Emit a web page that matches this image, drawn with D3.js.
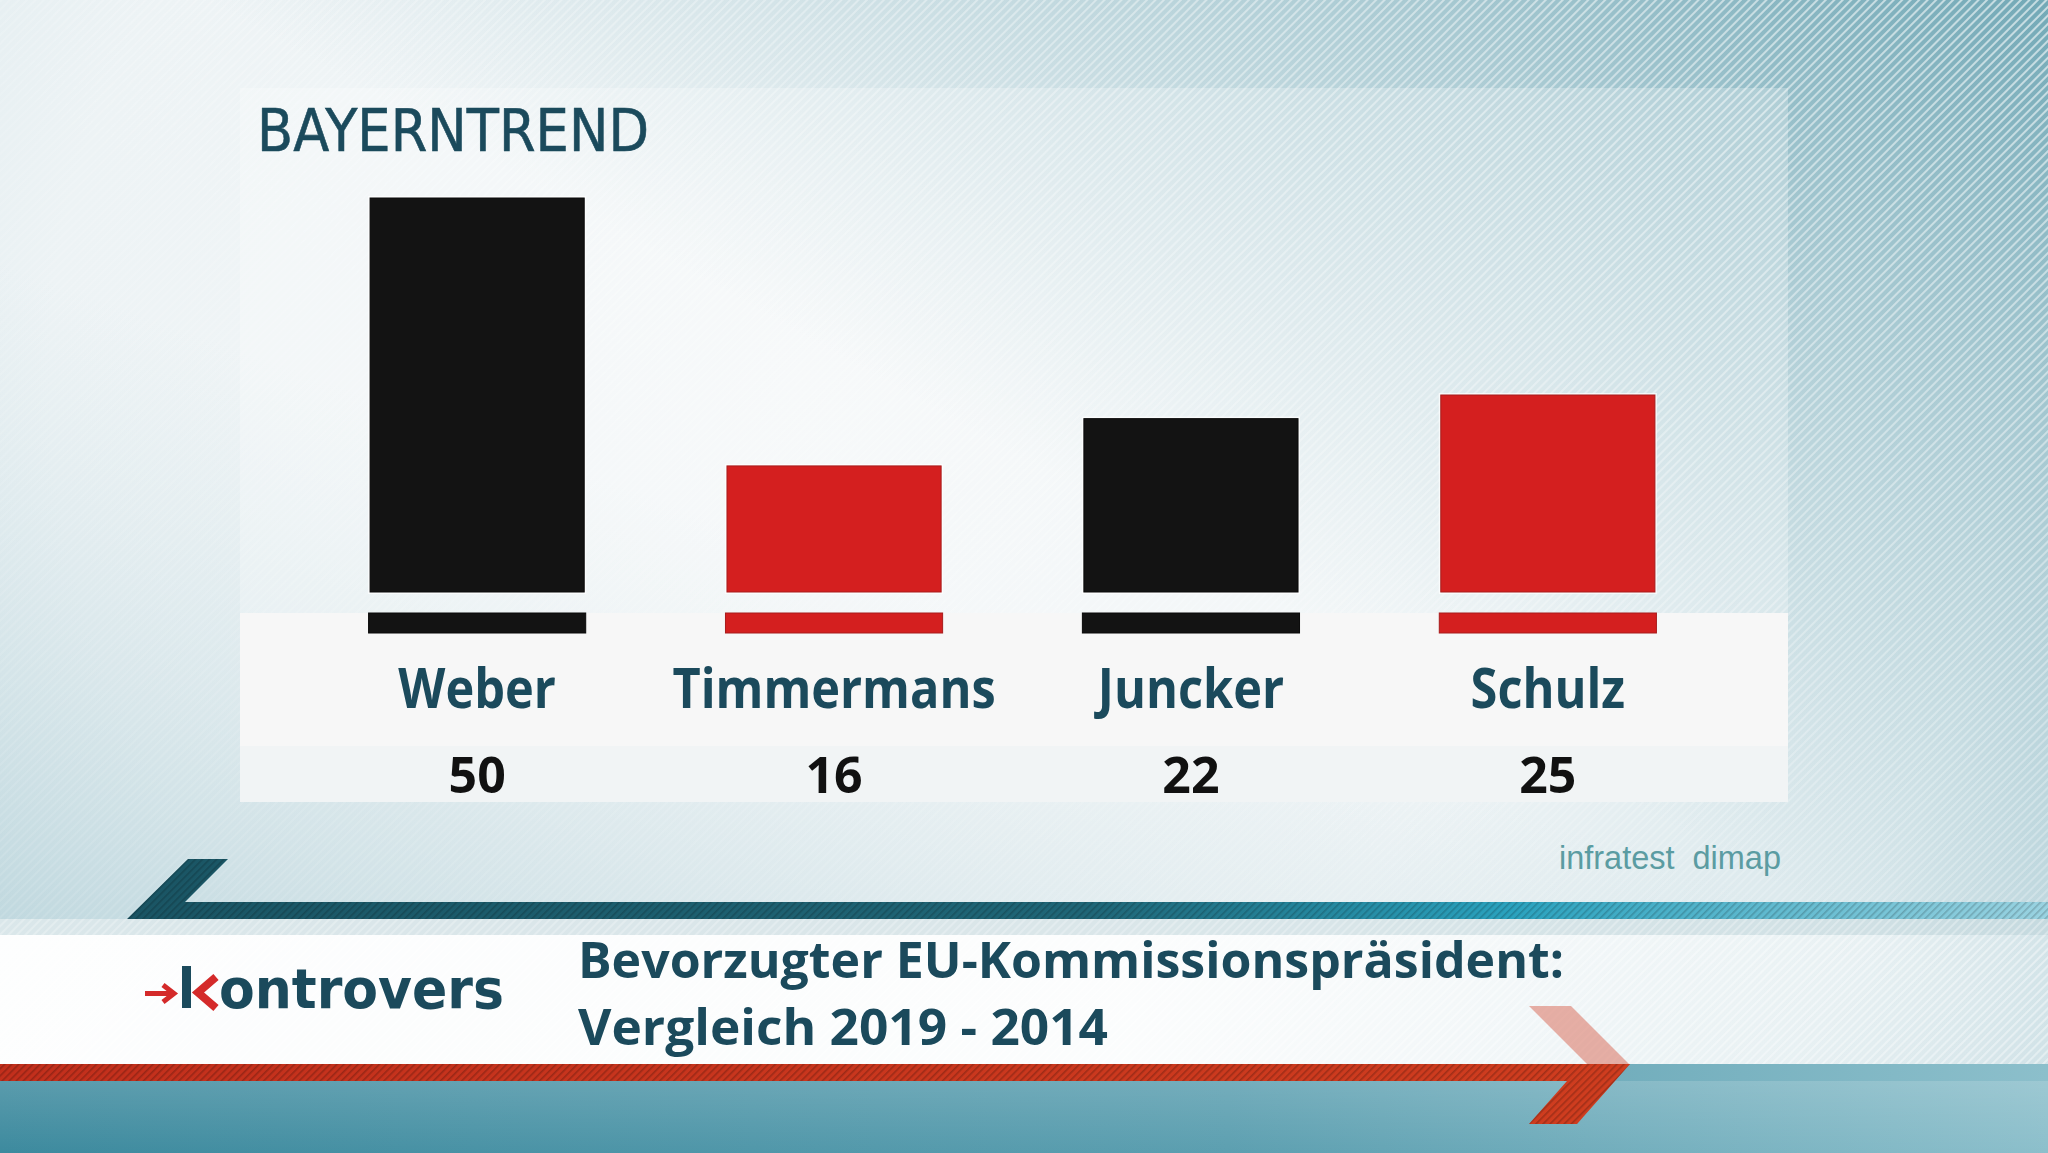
<!DOCTYPE html>
<html><head><meta charset="utf-8">
<script src="https://cdn.jsdelivr.net/npm/d3@7"></script>
<style>html,body{margin:0;padding:0;overflow:hidden;background:#e9f0f2}svg{display:block}</style>
</head><body>
<svg id="c" width="2048" height="1153"></svg>
<script>
// ---- data ----
const candidates = ["Weber", "Timmermans", "Juncker", "Schulz"];
const values = [50, 16, 22, 25];
const parties = ["EVP", "SPE", "EVP", "SPE"];
const chartTitle = "BAYERNTREND";
const headline = ["Bevorzugter EU-Kommissionspräsident:", "Vergleich 2019 - 2014"];
const source = "infratest  dimap";
const brand = "ontrovers";

// ---- setup ----
const W = 2048, H = 1153;
const svg = d3.select("#c");
const defs = svg.append("defs");
const teal = "#1b4a5c";

function lg(id, x1, y1, x2, y2, stops) {
  const g = defs.append("linearGradient").attr("id", id)
    .attr("x1", x1).attr("y1", y1).attr("x2", x2).attr("y2", y2);
  stops.forEach(s => g.append("stop").attr("offset", s[0]).attr("stop-color", s[1]).attr("stop-opacity", s[2] == null ? 1 : s[2]));
  return g;
}
const rg = defs.append("radialGradient").attr("id", "bgR").attr("gradientUnits", "userSpaceOnUse")
  .attr("cx", 800).attr("cy", 380).attr("r", 1500);
[[0, "#f4f7f8"], [0.5, "#edf3f5"], [0.8, "#d8e7eb"], [1, "#b3d0d8"]].forEach(s => rg.append("stop").attr("offset", s[0]).attr("stop-color", s[1]));
lg("trTeal", "100%", "0%", "55%", "45%", [[0, "#6ea6b4", 0.95], [1, "#9cc3cd", 0]]);
lg("blTeal", "0%", "100%", "35%", "45%", [[0, "#a3c7d0", 0.85], [1, "#c5dbe1", 0]]);

const pat = defs.append("pattern").attr("id", "stripes").attr("patternUnits", "userSpaceOnUse")
  .attr("width", 6).attr("height", 6).attr("patternTransform", "rotate(45)");
pat.append("rect").attr("x", 0).attr("y", 0).attr("width", 2).attr("height", 6).attr("fill", "#ffffff");
const patD = defs.append("pattern").attr("id", "stripesDark").attr("patternUnits", "userSpaceOnUse")
  .attr("width", 5).attr("height", 5).attr("patternTransform", "rotate(45)");
patD.append("rect").attr("x", 0).attr("y", 0).attr("width", 1.6).attr("height", 5).attr("fill", "#000");

lg("maskG", "100%", "0%", "45%", "55%", [[0, "#ffffff"], [1, "#000000"]]);
const mask = defs.append("mask").attr("id", "trMask");
mask.append("rect").attr("width", W).attr("height", H).attr("fill", "url(#maskG)");

lg("tealBand", "0%", "0%", "100%", "0%", [[0, "#1a5564"], [0.5, "#1f6677"], [0.72, "#2aa2be"], [1, "#9ad3e1"]]);
lg("whiteBand", "0%", "0%", "100%", "0%", [[0, "#ffffff", 0.97], [0.55, "#ffffff", 0.9], [0.8, "#ffffff", 0.55], [1, "#ffffff", 0.3]]);
lg("bottomTeal", "0%", "0%", "100%", "0%", [[0, "#3d8a9e"], [0.6, "#5c9fb0"], [1, "#8cbfcb"]]);
lg("bottomTealV", "0%", "0%", "0%", "100%", [[0, "#ffffff", 0.15], [1, "#ffffff", 0]]);
lg("redBar", "0%", "0%", "100%", "0%", [[0, "#c22f1c"], [1, "#cf3d1f"]]);

// ---- background ----
svg.append("rect").attr("width", W).attr("height", H).attr("fill", "url(#bgR)");
svg.append("rect").attr("width", W).attr("height", H).attr("fill", "url(#trTeal)");
svg.append("rect").attr("width", W).attr("height", H).attr("fill", "url(#blTeal)");
svg.append("rect").attr("width", W).attr("height", H).attr("fill", "url(#stripes)").attr("opacity", 0.55).attr("mask", "url(#trMask)");
svg.append("rect").attr("width", W).attr("height", H).attr("fill", "url(#stripes)").attr("opacity", 0.1);

// ---- panel ----
const panel = {x: 240, w: 1548};
svg.append("rect").attr("x", panel.x).attr("y", 88).attr("width", panel.w).attr("height", 525).attr("fill", "#ffffff").attr("opacity", 0.25);
svg.append("rect").attr("x", panel.x).attr("y", 613).attr("width", panel.w).attr("height", 133).attr("fill", "#f7f7f7");
svg.append("rect").attr("x", panel.x).attr("y", 746).attr("width", panel.w).attr("height", 56).attr("fill", "#f1f4f5");

svg.append("text").attr("x", 257).attr("y", 151).text(chartTitle)
  .attr("font-family", "DejaVu Sans").attr("font-size", 58).attr("fill", teal)
  .attr("stroke", teal).attr("stroke-width", 0.6)
  .attr("textLength", 392).attr("lengthAdjust", "spacingAndGlyphs");

// ---- scales ----
const x = d3.scaleBand().domain(candidates).range([263, 1762]).paddingInner(0.4).paddingOuter(0.3);
const y = d3.scaleLinear().domain([0, 50]).range([592, 198]);
const color = d3.scaleOrdinal().domain(["EVP", "SPE"]).range(["#131313", "#d41f1f"]);
const edge = d3.scaleOrdinal().domain(["EVP", "SPE"]).range(["#0a0a0a", "#a81c1c"]);
const data = candidates.map((c, i) => ({name: c, value: values[i], party: parties[i]}));

const g = svg.append("g");
g.selectAll("rect.halo").data(data).join("rect").attr("class", "halo")
  .attr("x", d => x(d.name) - 2).attr("y", d => y(d.value) - 2)
  .attr("width", x.bandwidth() + 4).attr("height", d => y(0) - y(d.value) + 4)
  .attr("fill", "#ffffff").attr("opacity", 0.7);
g.selectAll("rect.bar").data(data).join("rect").attr("class", "bar")
  .attr("x", d => x(d.name)).attr("y", d => y(d.value))
  .attr("width", x.bandwidth()).attr("height", d => y(0) - y(d.value))
  .attr("fill", d => color(d.party)).attr("stroke", d => edge(d.party)).attr("stroke-width", 1);
g.selectAll("rect.strip").data(data).join("rect").attr("class", "strip")
  .attr("x", d => x(d.name) - 1.5).attr("y", 613)
  .attr("width", x.bandwidth() + 3).attr("height", 20)
  .attr("fill", d => color(d.party)).attr("stroke", d => edge(d.party)).attr("stroke-width", 1);

const names = g.selectAll("text.name").data(data).join("text").attr("class", "name")
  .attr("x", d => x(d.name) + x.bandwidth() / 2).attr("y", 708)
  .attr("text-anchor", "middle").attr("font-family", "Open Sans").attr("font-weight", 700)
  .attr("font-size", 56).attr("fill", teal).text(d => d.name);
names.each(function () {
  const l = this.getComputedTextLength();
  d3.select(this).attr("textLength", l * 0.87).attr("lengthAdjust", "spacingAndGlyphs");
});
g.selectAll("text.val").data(data).join("text").attr("class", "val")
  .attr("x", d => x(d.name) + x.bandwidth() / 2).attr("y", 793)
  .attr("text-anchor", "middle").attr("font-family", "Open Sans").attr("font-weight", 700)
  .attr("font-size", 50).attr("fill", "#111111").text(d => d.value);

svg.append("text").attr("x", 1559).attr("y", 869).text(source)
  .attr("font-family", "Liberation Sans").attr("font-size", 33).attr("fill", "#5b9ca2")
  .attr("textLength", 222).attr("lengthAdjust", "spacingAndGlyphs").style("white-space", "pre");

// ---- bottom banner ----
svg.append("rect").attr("x", 0).attr("y", 1064).attr("width", W).attr("height", 89).attr("fill", "url(#bottomTeal)");
svg.append("rect").attr("x", 0).attr("y", 1081).attr("width", W).attr("height", 72).attr("fill", "url(#bottomTealV)");
svg.append("rect").attr("x", 0).attr("y", 919).attr("width", W).attr("height", 145).attr("fill", "url(#whiteBand)");
svg.append("rect").attr("x", 0).attr("y", 919).attr("width", W).attr("height", 16).attr("fill", "#b8cfd5").attr("opacity", 0.5);
svg.append("rect").attr("x", 0).attr("y", 919).attr("width", W).attr("height", 145).attr("fill", "url(#stripes)").attr("opacity", 0.25);

const tealPts = [[188, 859], [228, 859], [185, 902], [W, 902], [W, 919], [127, 919]];
svg.append("polygon").attr("points", tealPts.map(p => p.join(",")).join(" ")).attr("fill", "url(#tealBand)");
svg.append("polygon").attr("points", tealPts.map(p => p.join(",")).join(" ")).attr("fill", "url(#stripesDark)").attr("opacity", 0.18);

const upArm = [[1529, 1006], [1571, 1006], [1630, 1065], [1588, 1065]];
svg.append("polygon").attr("points", upArm.map(p => p.join(",")).join(" ")).attr("fill", "#d86450").attr("opacity", 0.5);
const redPts = [[0, 1064], [1630, 1064], [1577, 1124], [1529, 1124], [1567, 1081], [0, 1081]];
svg.append("polygon").attr("points", redPts.map(p => p.join(",")).join(" ")).attr("fill", "url(#redBar)");
svg.append("polygon").attr("points", redPts.map(p => p.join(",")).join(" ")).attr("fill", "url(#stripesDark)").attr("opacity", 0.22);

// logo
const red = "#d42a2a";
svg.append("line").attr("x1", 145).attr("y1", 993.5).attr("x2", 172).attr("y2", 993.5).attr("stroke", red).attr("stroke-width", 5);
svg.append("polyline").attr("points", "163,985 174,993.5 163,1002").attr("fill", "none").attr("stroke", red).attr("stroke-width", 5);
svg.append("rect").attr("x", 182).attr("y", 966).attr("width", 9).attr("height", 42).attr("fill", teal);
svg.append("polyline").attr("points", "216,977 198,992.5 216,1008").attr("fill", "none").attr("stroke", red).attr("stroke-width", 8);
svg.append("text").attr("x", 219).attr("y", 1008).text(brand)
  .attr("font-family", "DejaVu Sans").attr("font-weight", 700).attr("font-size", 56).attr("fill", teal)
  .attr("textLength", 285).attr("lengthAdjust", "spacingAndGlyphs");

// headline
const hl = [{t: headline[0], y: 978, w: 986}, {t: headline[1], y: 1045, w: 530}];
svg.selectAll("text.hl").data(hl).join("text").attr("class", "hl")
  .attr("x", 578).attr("y", d => d.y).text(d => d.t)
  .attr("font-family", "Open Sans").attr("font-weight", 700).attr("font-size", 50).attr("fill", teal)
  .attr("textLength", d => d.w).attr("lengthAdjust", "spacingAndGlyphs");
</script>
</body></html>
